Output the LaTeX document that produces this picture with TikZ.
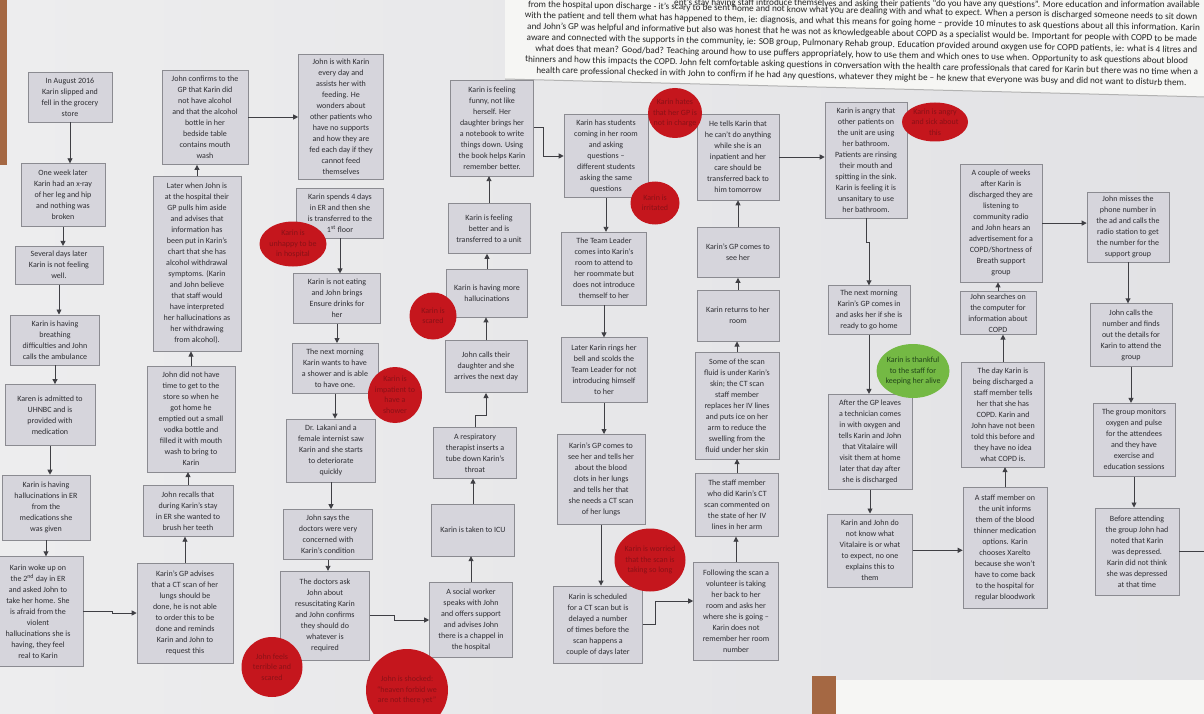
\documentclass[tikz,border=0pt]{standalone}
\usepackage{fontspec}
\setmainfont{Carlito}
\usepackage{tikz}
\usetikzlibrary{positioning}
\usetikzlibrary{shapes.geometric,arrows.meta}
\definecolor{boardleft}{HTML}{EDEDEE}
\definecolor{boardright}{HTML}{E2E2E5}
\definecolor{paper}{HTML}{F6F6F4}
\definecolor{wood}{HTML}{A56843}
\definecolor{boxfill}{HTML}{D6D5DC}
\definecolor{boxline}{HTML}{8B8B91}
\definecolor{boxtext}{HTML}{2E2E33}
\definecolor{edgegray}{HTML}{3F3F44}
\definecolor{feelred}{HTML}{C5161D}
\definecolor{feeltext}{HTML}{8A1117}
\definecolor{feelgreen}{HTML}{74B944}
\definecolor{greentext}{HTML}{22451A}
\tikzstyle{stepbox}=[draw=boxline,line width=0.6pt,fill=boxfill,text=boxtext,font=\fontsize{8}{11}\selectfont,align=center,inner sep=2pt,minimum width=84pt]
\tikzstyle{feeling}=[ellipse,fill=feelred,text=feeltext,font=\fontsize{8}{10.5}\selectfont,align=center,inner sep=-7pt]
\tikzstyle{thankful}=[feeling,fill=feelgreen,text=greentext]
\tikzstyle{step edge}=[-{Triangle[length=5pt,width=5pt]},draw=edgegray,line width=0.9pt]
\tikzstyle{plain edge}=[draw=edgegray,line width=0.9pt]
\tikzstyle{memo text}=[font=\fontsize{9.2}{11}\selectfont,text=black!85,align=center,inner sep=0pt]
\newcommand{\stepnode}[3][]{
  \node [stepbox, #1] (#2) {#3}
}
\newcommand{\feelnode}[3][]{
  \node [feeling, #1] (#2) {#3}
}

\begin{document}
\begin{tikzpicture}[x=1pt,y=-1pt]
        \useasboundingbox (0,0) rectangle (1204,714);
        \shade[left color=boardleft,right color=boardright] (0,0) rectangle (1204,714);
        \fill[wood] (0,0) rectangle (7,165);
        \fill[wood] (812,676) rectangle (836,714);
        \fill[paper] (836,680) rectangle (1206,716);
        \fill[paper] (505,-2) -- (1206,-2) -- (1206,97) -- (505,79) -- cycle;
        \draw[black!30,line width=1pt] (505,79) -- (1206,97);

        \node[memo text,rotate=-1.1] (memo) at (862,44) {from the hospital upon discharge - it's scary to be sent home and not know what you are dealing with and  what to expect.  When a person is discharged someone needs to sit down\\
with the patient and tell them what has happened to them, ie: diagnosis, and what this means for going home -- provide 10 minutes to ask questions about all this information. Karin\\
and John's GP was helpful and informative but also was honest that he was not as knowledgeable about COPD as a specialist would be.  Important for people with COPD to be made\\
aware and connected with the supports in the community, ie: SOB group, Pulmonary Rehab group.   Education provided around oxygen use for COPD patients, ie: what is 4 litres and\\
what does that mean? Good/bad?  Teaching around how to use puffers appropriately, how to use them and which ones to use when.   Opportunity to ask questions about blood\\
thinners and how this impacts the COPD.  John felt comfortable asking questions in conversation with the health care professionals that cared for Karin but there was no time when a\\
health care professional checked in with John to confirm if he had any questions, whatever they might be -- he knew that everyone was busy and did not want to disturb them.};
        \node[memo text,rotate=-0.3,anchor=base east] (memohead) at (1200,8) {ent's stay having staff introduce themselves and asking their patients ``do you have any questions''. More education and information available};

        \stepnode[at={(70,97)},minimum height=50pt]{a1}{In August 2016\\Karin slipped and\\fell in the grocery\\store};
        \stepnode[below=41pt of a1,xshift=-7pt,minimum height=63pt]{a2}{One week later\\Karin had an x-ray\\of her leg and hip\\and nothing was\\broken};
        \stepnode[below=19pt of a2,xshift=-4pt,minimum height=38pt,minimum width=88pt]{a3}{Several days later\\Karin is not feeling\\well.};
        \stepnode[below=30pt of a3,xshift=-4pt,minimum height=50pt,minimum width=89pt]{a4}{Karin is having\\breathing\\difficulties and John\\calls the ambulance};
        \stepnode[below=19pt of a4,xshift=-5pt,minimum height=61pt,minimum width=90pt]{a5}{Karen is admitted to\\UHNBC and is\\provided with\\medication};
        \stepnode[below=29pt of a5,xshift=-4pt,minimum height=65pt,minimum width=88pt]{a6}{Karin is having\\hallucinations in ER\\from the\\medications she\\was given};
        \stepnode[below=16pt of a6,xshift=-8pt,minimum height=110pt,minimum width=90pt]{a7}{Karin woke up on\\the 2\textsuperscript{nd} day in ER\\and asked John to\\take her home.  She\\is afraid from the\\violent\\hallucinations she is\\having, they feel\\real to Karin};

        \stepnode[at={(185,613)},minimum height=100pt,minimum width=96pt]{b1}{Karin's GP advises\\that a CT scan of her\\lungs should be\\done, he is not able\\to order this to be\\done and reminds\\Karin and John to\\request this};
        \stepnode[above=26pt of b1,xshift=3pt,minimum height=51pt,minimum width=90pt]{b2}{John recalls that\\during Karin's stay\\in ER she wanted to\\brush her teeth};
        \stepnode[above=13pt of b2,xshift=3pt,minimum height=106pt,minimum width=88pt]{b3}{John did not have\\time to get to the\\store so when he\\got home he\\emptied out a small\\vodka bottle and\\filled it with mouth\\wash to bring to\\Karin};
        \stepnode[above=14pt of b3,xshift=6pt,minimum height=175pt,minimum width=88pt]{b4}{Later when John is\\at the hospital their\\GP pulls him aside\\and advises that\\information has\\been put in Karin's\\chart that she has\\alcohol withdrawal\\symptoms.  (Karin\\and John believe\\that staff would\\have interpreted\\her hallucinations as\\her withdrawing\\from alcohol).};
        \stepnode[above=11pt of b4,xshift=8pt,minimum height=94pt,minimum width=86pt]{b5}{John confirms to the\\GP that Karin did\\not have alcohol\\and that the alcohol\\bottle in her\\bedside table\\contains mouth\\wash};

        \stepnode[at={(341,117)},minimum height=125pt,minimum width=85pt]{c1}{John is with Karin\\every day and\\assists her with\\feeding.  He\\wonders about\\other patients who\\have no supports\\and how they are\\fed each day if they\\cannot feed\\themselves};
        \stepnode[below=8pt of c1,xshift=-1pt,minimum height=50pt,minimum width=87pt]{c2}{Karin spends 4 days\\in ER and then she\\is transferred to the\\1\textsuperscript{st} floor};
        \stepnode[below=35pt of c2,xshift=-3pt,minimum height=50pt,minimum width=87pt]{c3}{Karin is not eating\\and John brings\\Ensure drinks for\\her};
        \stepnode[below=19pt of c3,xshift=-2pt,minimum height=50pt,minimum width=86pt]{c4}{The next morning\\Karin wants to have\\a shower and is able\\to have one.};
        \stepnode[below=25pt of c4,xshift=-4pt,minimum height=63pt,minimum width=89pt]{c5}{Dr. Lakani and a\\female internist saw\\Karin and she starts\\to deteriorate\\quickly};
        \stepnode[below=27pt of c5,xshift=-3pt,minimum height=50pt,minimum width=89pt]{c6}{John says the\\doctors were very\\concerned with\\Karin's condition};
        \stepnode[below=11pt of c6,xshift=-3pt,minimum height=89pt,minimum width=89pt]{c7}{The doctors ask\\John about\\resuscitating Karin\\and John confirms\\they should do\\whatever is\\required};

        \stepnode[at={(471,620)},minimum height=75pt,minimum width=83pt]{d1}{A social worker\\speaks with John\\and offers support\\and advises John\\there is a chappel in\\the hospital};
        \stepnode[above=26pt of d1,xshift=2pt,minimum height=52pt,minimum width=83pt]{d2}{Karin is taken to ICU};
        \stepnode[above=25pt of d2,xshift=2pt,minimum height=51pt,minimum width=83pt]{d3}{A respiratory\\therapist inserts a\\tube down Karin's\\throat};
        \stepnode[above=34pt of d3,xshift=11pt,minimum height=52pt,minimum width=82pt]{d4}{John calls their\\daughter and she\\arrives the next day};
        \stepnode[above=23pt of d4,xshift=1pt,minimum height=48pt,minimum width=81pt]{d5}{Karin is having more\\hallucinations};
        \stepnode[above=15pt of d5,xshift=2pt,minimum height=50pt,minimum width=82pt]{d6}{Karin is feeling\\better and is\\transferred to a unit};
        \stepnode[above=27pt of d6,xshift=3pt,minimum height=96pt,minimum width=83pt]{d7}{Karin is feeling\\funny, not like\\herself.  Her\\daughter brings her\\a notebook to write\\things down.  Using\\the book helps Karin\\remember better.};

        \stepnode[at={(606,156)},minimum height=83pt]{e1}{Karin has students\\coming in her room\\and asking\\questions --\\different students\\asking the same\\questions};
        \stepnode[below=34pt of e1,xshift=-2pt,minimum height=73pt,minimum width=85pt]{e2}{The Team Leader\\comes into Karin's\\room to attend to\\her roommate but\\does not introduce\\themself to her};
        \stepnode[below=32pt of e2,minimum height=65pt,minimum width=86pt]{e3}{Later Karin rings her\\bell and scolds the\\Team Leader for not\\introducing himself\\to her};
        \stepnode[below=31pt of e3,xshift=-3pt,minimum height=90pt,minimum width=88pt]{e4}{Karin's GP comes to\\see her and tells her\\about the blood\\clots in her lungs\\and tells her that\\she needs a CT scan\\of her lungs};
        \stepnode[below=61pt of e4,xshift=-3pt,minimum height=77pt,minimum width=89pt]{e5}{Karin is scheduled\\for a CT scan but is\\delayed a number\\of times before the\\scan happens a\\couple of days later};

        \stepnode[at={(736,611)},minimum height=98pt,minimum width=85pt]{f1}{Following the scan a\\volunteer is taking\\her back to her\\room and asks her\\where she is going --\\Karin does not\\remember her room\\number};
        \stepnode[above=25pt of f1,xshift=1pt,minimum height=63pt,minimum width=83pt]{f2}{The staff member\\who did Karin's CT\\scan commented on\\the state of her IV\\lines in her arm};
        \stepnode[above=14pt of f2,minimum height=107pt]{f3}{Some of the scan\\fluid is under Karin's\\skin; the CT scan\\staff member\\replaces her IV lines\\and puts ice on her\\arm to reduce the\\swelling from the\\fluid under her skin};
        \stepnode[above=10pt of f3,xshift=1pt,minimum height=51pt,minimum width=82pt]{f4}{Karin returns to her\\room};
        \stepnode[above=12pt of f4,minimum height=50pt,minimum width=82pt]{f5}{Karin's GP comes to\\see her};
        \stepnode[above=27pt of f5,minimum height=86pt,minimum width=82pt]{f6}{He tells Karin that\\he can't do anything\\while she is an\\inpatient and her\\care should be\\transferred back to\\him tomorrow};

        \stepnode[at={(866,160)},minimum height=116pt,minimum width=82pt]{g1}{Karin is angry that\\other patients on\\the unit are using\\her bathroom.\\Patients are rinsing\\their mouth and\\spitting in the sink.\\Karin is feeling it is\\unsanitary to use\\her bathroom.};
        \stepnode[below=67pt of g1,xshift=3pt,minimum height=49pt,minimum width=82pt]{g2}{The next morning\\Karin's GP comes in\\and asks her if she is\\ready to go home};
        \stepnode[below=59pt of g2,xshift=1pt,minimum height=95pt]{g3}{After the GP leaves\\a technician comes\\in with oxygen and\\tells Karin and John\\that Vitalaire will\\visit them at home\\later that day after\\she is discharged};
        \stepnode[below=24pt of g3,minimum height=73pt,minimum width=85pt]{g4}{Karin and John do\\not know what\\Vitalaire is or what\\to expect, no one\\explains this to\\them};

        \stepnode[at={(1005,548)},minimum height=121pt]{h1}{A staff member on\\the unit informs\\them of the blood\\thinner medication\\options. Karin\\chooses Xarelto\\because she won't\\have to come back\\to the hospital for\\regular bloodwork};
        \stepnode[above=20pt of h1,xshift=-2pt,minimum height=105pt,minimum width=83pt]{h2}{The day Karin is\\being discharged a\\staff member tells\\her that she has\\COPD.  Karin and\\John have not been\\told this before and\\they have no idea\\what COPD is.};
        \stepnode[above=27pt of h2,xshift=-5pt,minimum height=41pt,minimum width=76pt]{h3}{John searches on\\the computer for\\information about\\COPD};
        \stepnode[above=9pt of h3,xshift=3pt,minimum height=118pt,minimum width=82pt]{h4}{A couple of weeks\\after Karin is\\discharged they are\\listening to\\community radio\\and John hears an\\advertisement for a\\COPD/Shortness of\\Breath support\\group};

        \stepnode[at={(1128,227)},minimum height=70pt,minimum width=82pt]{i1}{John misses the\\phone number in\\the ad and calls the\\radio station to get\\the number for the\\support group};
        \stepnode[below=41pt of i1,xshift=3pt,minimum height=63pt,minimum width=82pt]{i2}{John calls the\\number and finds\\out the details for\\Karin to attend the\\group};
        \stepnode[below=36pt of i2,xshift=3pt,minimum height=73pt,minimum width=82pt]{i3}{The group monitors\\oxygen and pulse\\for the attendees\\and they have\\exercise and\\education sessions};
        \stepnode[below=31pt of i3,xshift=3pt,minimum height=87pt]{i4}{Before attending\\the group John had\\noted that Karin\\was depressed.\\Karin did not think\\she was depressed\\at that time};
        \coordinate (exit) at (1210,550);

      \draw[step edge] (a1) -- (a1 |- a2.north);
      \draw[step edge] (a2) -- (a2 |- a3.north);
      \draw[step edge] (a3) -- (a3 |- a4.north);
      \draw[step edge] (a4) -- (a4 |- a5.north);
      \draw[step edge] (a5) -- (a5 |- a6.north);
      \draw[step edge] (a6) -- (a6 |- a7.north);
      \draw[step edge] (a7.east) -- ++(29pt,0pt) |- (b1);
      \draw[step edge] (b1) -- (b1 |- b2.south);
      \draw[step edge] (b2) -- (b2 |- b3.south);
      \draw[step edge] (b3) -- (b3 |- b4.south);
      \draw[step edge] (b4) -- (b4 |- b5.south);
      \draw[step edge] (b5.east) -- ++(27pt,0pt) |- (c1);
      \draw[step edge] (c2) -- (c2 |- c3.north);
      \draw[step edge] (c3) -- (c3 |- c4.north);
      \draw[step edge] (c4) -- (c4 |- c5.north);
      \draw[step edge] (c5) -- (c5 |- c6.north);
      \draw[step edge] (c6) -- (c6 |- c7.north);
      \draw[step edge] (c7.east) -- ++(25pt,0pt) |- (d1);
      \draw[step edge] (d1) -- (d1 |- d2.south);
      \draw[step edge] (d2) -- (d2 |- d3.south);
      \draw[step edge] (d3.north) -- ++(0pt,12pt) -| (d4);
      \draw[step edge] (d4) -- (d4 |- d5.south);
      \draw[step edge] (d5) -- (d5 |- d6.south);
      \draw[step edge] (d6) -- (d6 |- d7.south);
      \draw[step edge] (d7.east) -- ++(10pt,0pt) |- (e1);
      \draw[step edge] (e1) -- (e1 |- e2.north);
      \draw[step edge] (e2) -- (e2 |- e3.north);
      \draw[step edge] (e3) -- (e3 |- e4.north);
      \draw[step edge] (e4) -- (e4 |- e5.north);
      \draw[step edge] (e5.east) -- ++(13pt,0pt) |- ([yshift=10pt]f1.west);
      \draw[step edge] (f1) -- (f1 |- f2.south);
      \draw[step edge] (f2) -- (f2 |- f3.south);
      \draw[step edge] (f3) -- (f3 |- f4.south);
      \draw[step edge] (f4) -- (f4 |- f5.south);
      \draw[step edge] (f5) -- (f5 |- f6.south);
      \draw[step edge] (f6) -- (f6 -| g1.west);
      \draw[step edge] (g1.south) -- ++(0pt,-24pt) -| (g2);
      \draw[step edge] (g2) -- (g2 |- g3.north);
      \draw[step edge] (g3) -- (g3 |- g4.north);
      \draw[step edge] (g4) -- (g4 -| h1.west);
      \draw[step edge] (h1) -- (h1 |- h2.south);
      \draw[step edge] (h2) -- (h2 |- h3.south);
      \draw[step edge] (h3) -- (h3 |- h4.south);
      \draw[step edge] (h4) -- (h4 -| i1.west);
      \draw[step edge] (i1) -- (i1 |- i2.north);
      \draw[step edge] (i2) -- (i2 |- i3.north);
      \draw[step edge] (i3) -- (i3 |- i4.north);
      \draw[plain edge] (i4) -- (i4 -| exit);

      \feelnode[at={(293,244)},minimum width=67pt,minimum height=45pt]{unhappy}{Karin is\\unhappy to be\\in hospital};
      \feelnode[at={(395,395)},minimum width=54pt,minimum height=56pt]{impatient}{Karin is\\impatient to\\have a\\shower};
      \feelnode[at={(272,667)},minimum width=61pt,minimum height=60pt]{terrible}{John feels\\terrible and\\scared};
      \feelnode[at={(407,690)},minimum width=82pt,minimum height=82pt]{shocked}{John is shocked:\\``heaven forbid we\\are not there yet''};
      \feelnode[at={(433,316)},minimum width=47pt,minimum height=47pt]{scared}{Karin is\\scared};
      \feelnode[at={(675,113)},minimum width=54pt,minimum height=50pt]{hates}{Karin hates\\that her GP is\\not in charge};
      \feelnode[at={(655,203)},minimum width=49pt,minimum height=43pt]{irritated}{Karin is\\irritated};
      \feelnode[at={(650,560)},minimum width=71pt,minimum height=63pt]{worried}{Karin is worried\\that the scan is\\taking so long};
      \feelnode[at={(935,122)},minimum width=66pt,minimum height=39pt]{angry}{Karin is angry\\and sick about\\this};
      \feelnode[thankful,at={(913,371)},minimum width=73pt,minimum height=54pt]{alive}{Karin is thankful\\to the staff for\\keeping her alive};
\end{tikzpicture}
\end{document}
